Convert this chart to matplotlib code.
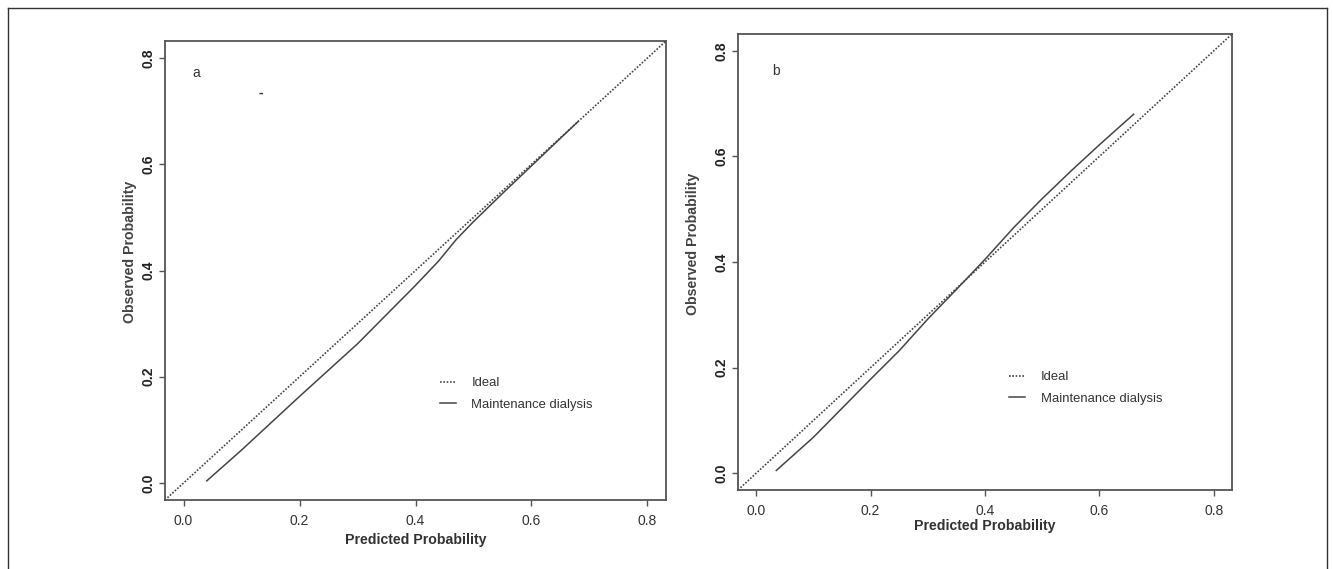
import matplotlib
matplotlib.use("Agg")
from matplotlib import pyplot as plt
from matplotlib.lines import Line2D

# calibration curves
pred_a = [0.040, 0.10, 0.20, 0.30, 0.40, 0.44, 0.47, 0.50, 0.55, 0.60, 0.65, 0.68]
obs_a = [0.004, 0.062, 0.163, 0.262, 0.372, 0.418, 0.458, 0.492, 0.545, 0.597, 0.649, 0.680]

pred_b = [0.035, 0.10, 0.20, 0.25, 0.30, 0.35, 0.40, 0.45, 0.50, 0.55, 0.60, 0.66]
obs_b = [0.005, 0.068, 0.178, 0.232, 0.292, 0.348, 0.405, 0.465, 0.520, 0.572, 0.622, 0.680]

ticks = [0.0, 0.2, 0.4, 0.6, 0.8]
tick_labels = ["0.0", "0.2", "0.4", "0.6", "0.8"]
legend_labels = ["Ideal", "Maintenance dialysis"]

FONT = "Liberation Sans"
LINE = "#454545"
SPINE = "#555555"


def draw_panel(ax, pred, obs, tag, tag_pos, xlabelpad, ylabel_x, legend_pos):
    lims = (-0.032, 0.832)
    ideal = ax.axline((0, 0), slope=1, color=LINE, lw=1.2, linestyle=(0, (1, 1)))
    curve, = ax.plot(pred, obs, color=LINE, lw=1.1)
    ax.set_xlim(lims)
    ax.set_ylim(lims)
    ax.set_xticks(ticks)
    ax.set_xticklabels(tick_labels, fontsize=10, family=FONT, color="#333333")
    ax.set_yticks(ticks)
    ax.set_yticklabels(tick_labels, fontsize=10, family=FONT, fontweight="bold",
                       rotation=90, va="center", color="#222222")
    ax.tick_params(axis="x", length=4, width=1, color=SPINE, pad=6)
    ax.tick_params(axis="y", length=4, width=1, color=SPINE, pad=3)
    for sp in ax.spines.values():
        sp.set_color(SPINE)
        sp.set_linewidth(1.3)
    ax.set_xlabel("Predicted Probability", fontsize=10.2, family=FONT,
                  fontweight="bold", color="#333333", labelpad=xlabelpad)
    ax.set_ylabel("Observed Probability", fontsize=10.2, family=FONT,
                  fontweight="bold", color="#444444")
    ax.yaxis.set_label_coords(ylabel_x, 0.54)
    ax.text(tag_pos[0], tag_pos[1], tag, fontsize=10, family=FONT, color="#333333",
            ha="left", va="center")
    leg = ax.legend([ideal, curve], legend_labels, loc="center left",
                    bbox_to_anchor=legend_pos, frameon=False, borderpad=0,
                    handlelength=1.2, handletextpad=1.2, labelspacing=0.7,
                    prop={"family": FONT, "size": 9.4})
    for t in leg.get_texts():
        t.set_color("#333333")
    return ax


fig = plt.figure(figsize=(13.33, 5.69), dpi=100)

ax_a = fig.add_axes([165 / 1333, 1 - 500 / 569, 501 / 1333, 459 / 569])
draw_panel(ax_a, pred_a, obs_a, "a", (0.016, 0.772), 4, -0.056, (0.536, 0.231))
ax_a.text(0.133, 0.734, "-", fontsize=10, family=FONT, fontweight="bold",
          color="#333333", ha="center", va="center")

ax_b = fig.add_axes([738 / 1333, 1 - 490 / 569, 494 / 1333, 456 / 569])
draw_panel(ax_b, pred_b, obs_b, "b", (0.027, 0.762), 1, -0.077, (0.536, 0.224))

# outer frame (open at the bottom)
x0, x1 = 8 / 1333, 1327 / 1333
y1 = 1 - 8 / 569
for xs, ys in [([x0, x1], [y1, y1]), ([x0, x0], [0, y1]), ([x1, x1], [0, y1])]:
    fig.add_artist(Line2D(xs, ys, transform=fig.transFigure, color="#333333", lw=1.0))

fig.savefig("out.png", dpi=100)
